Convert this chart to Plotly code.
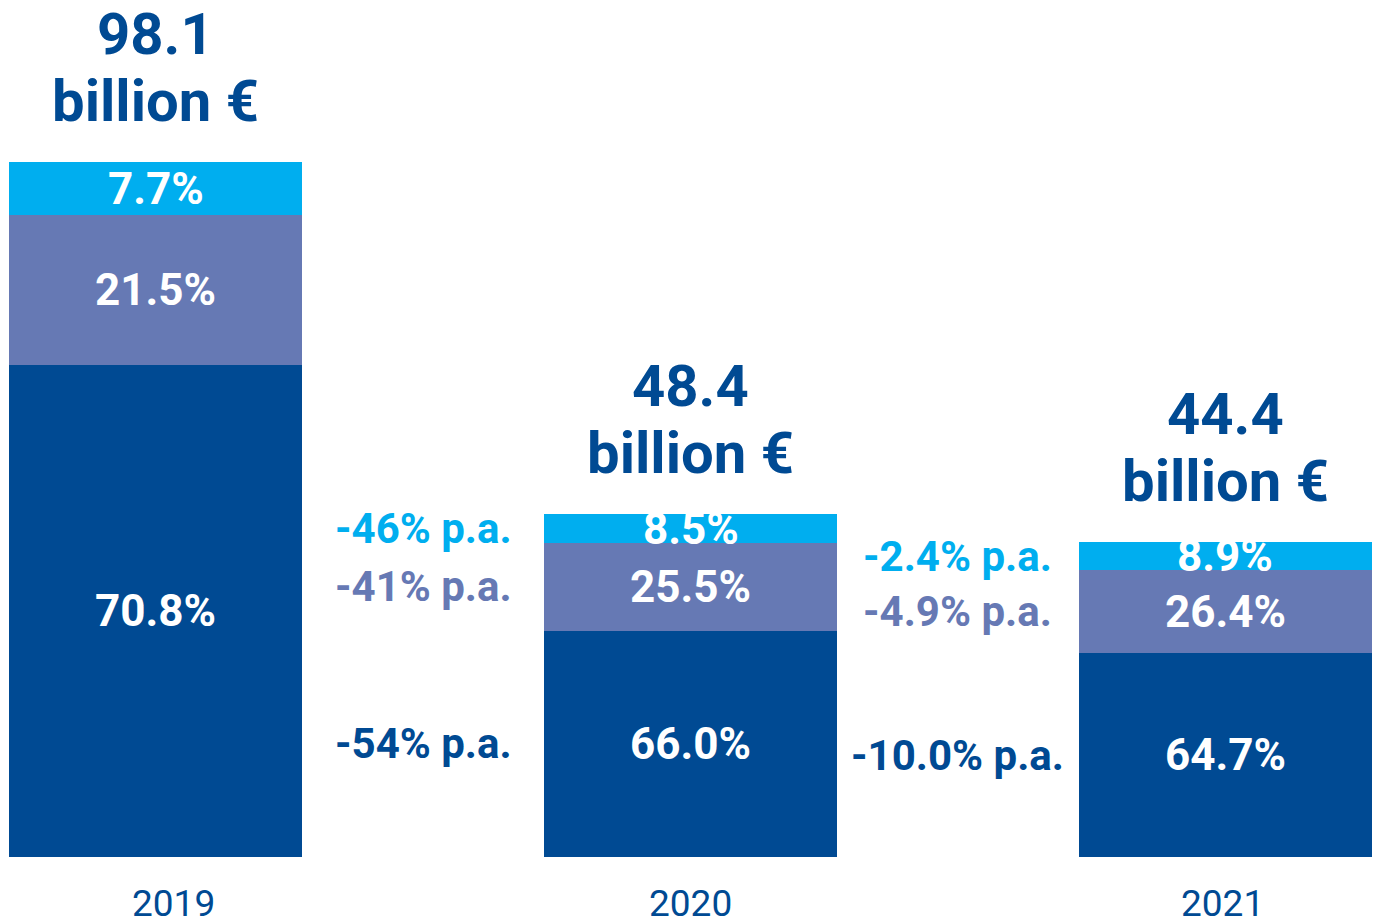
import plotly.graph_objects as go

# Revenue totals and their composition per year
years = ["2019", "2020", "2021"]
totals = [98.1, 48.4, 44.4]                  # billion €
share_dark = [70.8, 66.0, 64.7]              # bottom segment, %
share_mid = [21.5, 25.5, 26.4]               # middle segment, %
share_light = [7.7, 8.5, 8.9]                # top segment, %

# Annual change between consecutive years, per segment
change_labels_light = ["-46% p.a.", "-2.4% p.a."]
change_labels_mid = ["-41% p.a.", "-4.9% p.a."]
change_labels_dark = ["-54% p.a.", "-10.0% p.a."]

DARK = "#004A93"
MID = "#6679B4"
LIGHT = "#00AEEF"
BOLD = "Roboto, 'Liberation Sans', sans-serif"

x = list(range(len(years)))
dark_vals = [t * s / 100 for t, s in zip(totals, share_dark)]
mid_vals = [t * s / 100 for t, s in zip(totals, share_mid)]
light_vals = [t * s / 100 for t, s in zip(totals, share_light)]

BAR_W = 0.5477

fig = go.Figure()
for vals, col in ((dark_vals, DARK), (mid_vals, MID), (light_vals, LIGHT)):
    fig.add_trace(go.Bar(x=x, y=vals, width=BAR_W, marker=dict(color=col, line=dict(width=0)),
                         hoverinfo="skip"))

ann = []
seg_centers = []
for i in range(len(years)):
    d, m, l = dark_vals[i], mid_vals[i], light_vals[i]
    centers = (d + m + l / 2, d + m / 2, d / 2)
    seg_centers.append(centers)
    for yc, share in zip(centers, (share_light[i], share_mid[i], share_dark[i])):
        ann.append(dict(x=i, y=yc, text=f"{share:.1f}%", showarrow=False, yanchor="middle",
                        font=dict(family=BOLD, size=44, color="white", weight=700)))
    # total above bar, two lines
    ann.append(dict(x=i, y=totals[i], text=f"{totals[i]:.1f}", showarrow=False,
                    yanchor="middle", yshift=128,
                    font=dict(family=BOLD, size=58, color=DARK, weight=700)))
    ann.append(dict(x=i, y=totals[i], text="billion €", showarrow=False,
                    yanchor="middle", yshift=61,
                    font=dict(family=BOLD, size=58, color=DARK, weight=700)))

# year labels under the bars
year_shift = [18, 0, -3]
for i, yr in enumerate(years):
    ann.append(dict(x=i, y=0, text=yr, showarrow=False, yanchor="middle", yshift=-46,
                    xshift=year_shift[i],
                    font=dict(family=BOLD, size=37, color=DARK, weight=400)))

# change labels between bars, aligned with the following bar's segments
for g in range(len(years) - 1):
    lc, mc, dc = seg_centers[g + 1]
    for yc, txt, col in ((lc, change_labels_light[g], LIGHT),
                         (mc, change_labels_mid[g], MID),
                         (dc, change_labels_dark[g], DARK)):
        ann.append(dict(x=g + 0.5, y=yc, text=txt, showarrow=False, yanchor="middle",
                        font=dict(family=BOLD, size=42, color=col, weight=700)))

fig.update_layout(
    width=1384, height=924, autosize=False,
    margin=dict(l=0, r=0, t=0, b=0),
    barmode="stack", showlegend=False,
    paper_bgcolor="white", plot_bgcolor="white",
    xaxis=dict(range=[-0.2907, 2.2963], visible=False, fixedrange=True),
    yaxis=dict(range=[-9.457, 120.96], visible=False, fixedrange=True),
    annotations=ann,
)

fig.write_html("out.html", config={"displayModeBar": False})
